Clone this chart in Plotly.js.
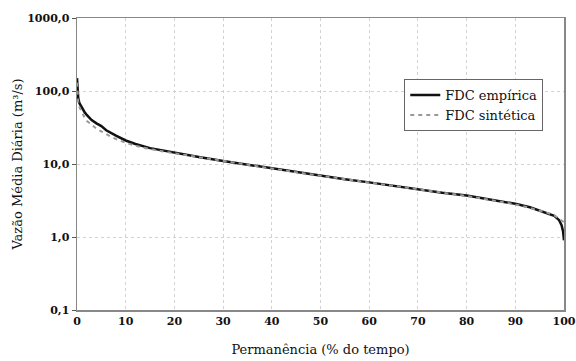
<!DOCTYPE html>
<html><head><meta charset="utf-8">
<script src="https://cdn.plot.ly/plotly-3.0.1.min.js"></script>
<style>html,body{margin:0;padding:0;background:#fff}#c{width:576px;height:361px}</style>
</head><body><div id="c"></div>
<script>
const permanencia = [0, 0.1, 0.25, 0.5, 1, 1.5, 2, 3, 4, 5, 6, 7, 8, 10, 12, 15, 20, 25, 30, 35, 40, 45, 50, 55, 60, 65, 70, 75, 80, 85, 90, 93, 95, 97, 98, 99, 99.5, 99.8, 100];
const fdcEmpirica = [150, 110, 80, 68, 58, 52, 47, 40, 36, 33, 29, 26.5, 24.5, 21, 18.8, 16.5, 14.2, 12.5, 11.0, 9.8, 8.7, 7.7, 6.9, 6.2, 5.6, 5.0, 4.5, 4.05, 3.7, 3.25, 2.85, 2.55, 2.3, 2.1, 1.95, 1.7, 1.45, 1.2, 0.9];
const fdcSintetica = [130, 95, 72, 60, 50, 44, 39, 34, 30.5, 28, 25.5, 23.5, 22, 19.5, 17.8, 16, 14, 12.4, 10.9, 9.7, 8.6, 7.7, 6.9, 6.2, 5.6, 5.0, 4.5, 4.05, 3.65, 3.2, 2.8, 2.5, 2.3, 2.1, 1.98, 1.8, 1.7, 1.65, 1.6];
const yTickVals = [0.1, 1, 10, 100, 1000];
const yTickText = ["0,1", "1,0", "10,0", "100,0", "1000,0"];
const xTickVals = [0, 10, 20, 30, 40, 50, 60, 70, 80, 90, 100];

const serif = "'DejaVu Serif', 'Liberation Serif', serif";
const traces = [
  {x: permanencia, y: fdcEmpirica, mode: "lines", name: "FDC empírica",
   line: {color: "#111", width: 2.5}},
  {x: permanencia, y: fdcSintetica, mode: "lines", name: "FDC sintética",
   line: {color: "#999", width: 2, dash: "4px,4px"}}
];
const layout = {
  width: 576, height: 361,
  margin: {l: 77, r: 12, t: 18, b: 51},
  paper_bgcolor: "#fff", plot_bgcolor: "#fff",
  font: {family: serif, color: "#222", size: 12},
  showlegend: true,
  legend: {x: 0.672, y: 0.791, xanchor: "left", yanchor: "top",
    bgcolor: "#fff", bordercolor: "#666", borderwidth: 1,
    font: {family: serif, size: 13, color: "#111"}, tracegroupgap: 0},
  xaxis: {range: [0, 100], tickvals: xTickVals, ticks: "", ticklabeloverflow: "allow",
    showgrid: true, gridcolor: "#d2d2d2", griddash: "dot", gridwidth: 1,
    showline: true, linecolor: "#888", linewidth: 1.5, mirror: true, zeroline: false,
    tickfont: {family: serif, size: 11, color: "#111", weight: "bold"},
    title: {text: "Permanência (% do tempo)", font: {family: serif, size: 13, color: "#111"}, standoff: 18}},
  yaxis: {type: "log", range: [-1, 3], tickvals: yTickVals, ticktext: yTickText,
    ticks: "outside", ticklen: 4, tickcolor: "#555",
    showgrid: true, gridcolor: "#d2d2d2", griddash: "dot", gridwidth: 1,
    showline: true, linecolor: "#888", linewidth: 1.5, mirror: true, zeroline: false,
    tickfont: {family: serif, size: 11, color: "#111", weight: "bold"},
    title: {text: "Vazão Média Diária (m³/s)", font: {family: serif, size: 13, color: "#111"}, standoff: 1}}
};
Plotly.newPlot("c", traces, layout, {displayModeBar: false, staticPlot: true});
</script></body></html>
